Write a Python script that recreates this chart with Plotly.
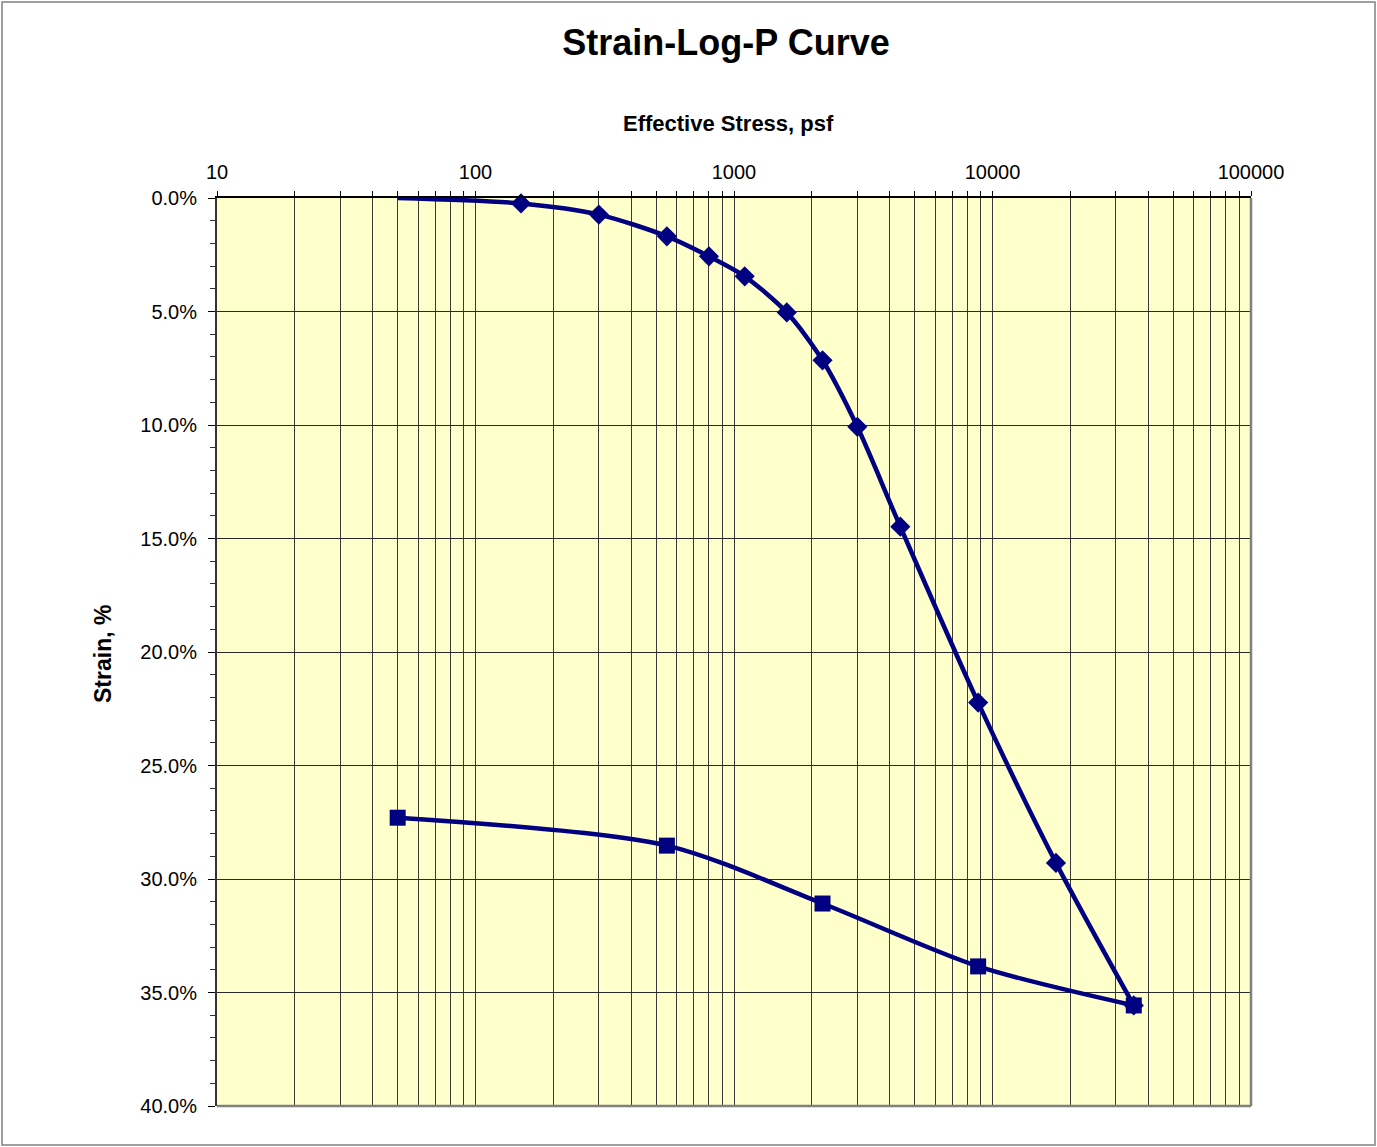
import plotly.graph_objects as go

# Loading curve (effective stress psf, strain %)
load_stress = [50, 150, 300, 550, 800, 1100, 1600, 2200, 3000, 4400, 8800, 17600, 35200]
load_strain = [0.0, 0.24, 0.73, 1.69, 2.57, 3.45, 5.04, 7.15, 10.08, 14.48, 22.23, 29.29, 35.57]

# Unloading curve
unload_stress = [35200, 8800, 2200, 550, 50]
unload_strain = [35.57, 33.85, 31.08, 28.53, 27.3]

x_tickvals = [10, 100, 1000, 10000, 100000]
x_ticktext = ["10", "100", "1000", "10000", "100000"]

NAVY = "#000080"
W, H = 1377, 1147
L, R, T, B = 217, 126, 198, 41
pw, ph = W - L - R, H - T - B

fig = go.Figure()
# loading line (starts at 50 psf without marker)
fig.add_trace(go.Scatter(
    x=load_stress, y=load_strain, mode="lines",
    line=dict(color=NAVY, width=4.5, shape="spline", smoothing=0.8),
    showlegend=False, hoverinfo="skip",
))
fig.add_trace(go.Scatter(
    x=load_stress[1:], y=load_strain[1:], mode="markers",
    marker=dict(symbol="diamond", size=15.5, color=NAVY, line=dict(width=0)),
    showlegend=False, cliponaxis=False,
))
fig.add_trace(go.Scatter(
    x=unload_stress, y=unload_strain, mode="lines+markers",
    line=dict(color=NAVY, width=4.5, shape="spline", smoothing=0.8),
    marker=dict(symbol="square", size=16, color=NAVY, line=dict(width=0)),
    showlegend=False, cliponaxis=False,
))

font = "Liberation Sans, Arial, sans-serif"

fig.update_layout(
    width=W, height=H,
    margin=dict(l=L, r=R, t=T, b=B, autoexpand=False),
    paper_bgcolor="white", plot_bgcolor="#FFFFCC",
    font=dict(family=font, color="black", size=20),
    title=dict(text="<b>Strain-Log-P Curve</b>", x=726 / W, xref="container",
               xanchor="center", y=1 - 42 / H, yref="container", yanchor="middle",
               font=dict(size=36, family=font, color="black")),
    xaxis=dict(
        type="log", range=[1, 5], side="top",
        tickvals=x_tickvals, ticktext=x_ticktext,
        showgrid=True, gridcolor="#3a3a3a", gridwidth=1,
        ticks="outside", ticklen=5, tickcolor="black", tickwidth=1,
        minor=dict(dtick="D1", showgrid=True, gridcolor="#3a3a3a", gridwidth=1,
                   ticks="outside", ticklen=5, tickcolor="black"),
        showline=True, linecolor="black", linewidth=2,
        tickfont=dict(size=20), zeroline=False, ticklabelstandoff=4,
    ),
    yaxis=dict(
        range=[40, 0], dtick=5, tickformat=".1f", ticksuffix="%",
        showgrid=True, gridcolor="#2a2a2a", gridwidth=1,
        ticks="outside", ticklen=7, tickcolor="black", tickwidth=1,
        minor=dict(dtick=1, ticks="outside", ticklen=5, tickcolor="#333", showgrid=False),
        showline=True, linecolor="#333333", linewidth=2,
        tickfont=dict(size=20), zeroline=False, ticklabelstandoff=7,
    ),
    annotations=[
        dict(text="<b>Effective Stress, psf</b>", xref="paper", yref="paper",
             x=(728 - L) / pw, y=1 + (T - 124) / ph, xanchor="center", yanchor="middle",
             showarrow=False, font=dict(size=22, family=font, color="black")),
        dict(text="<b>Strain, %</b>", xref="paper", yref="paper",
             x=(103 - L) / pw, y=(H - B - 654) / ph, xanchor="center", yanchor="middle",
             textangle=-90, showarrow=False, font=dict(size=23, family=font, color="black")),
    ],
    shapes=[
        # plot-area right and bottom border (grey)
        dict(type="line", xref="paper", yref="paper", x0=1, x1=1, y0=0, y1=1,
             line=dict(color="#808080", width=2.5), layer="above"),
        dict(type="line", xref="paper", yref="paper", x0=0, x1=1, y0=0, y1=0,
             line=dict(color="#808080", width=2.5), layer="above"),
        # outer chart border
        dict(type="rect", xref="paper", yref="paper",
             x0=(2 - L) / pw, x1=(W - 2 - L) / pw,
             y0=-(B - 2) / ph, y1=1 + (T - 2) / ph,
             line=dict(color="#808080", width=1.5), layer="below"),
    ],
)

fig.write_html("out.html", config={"displayModeBar": False},
               post_script="document.body.style.margin='0';document.body.style.overflow='hidden';")
